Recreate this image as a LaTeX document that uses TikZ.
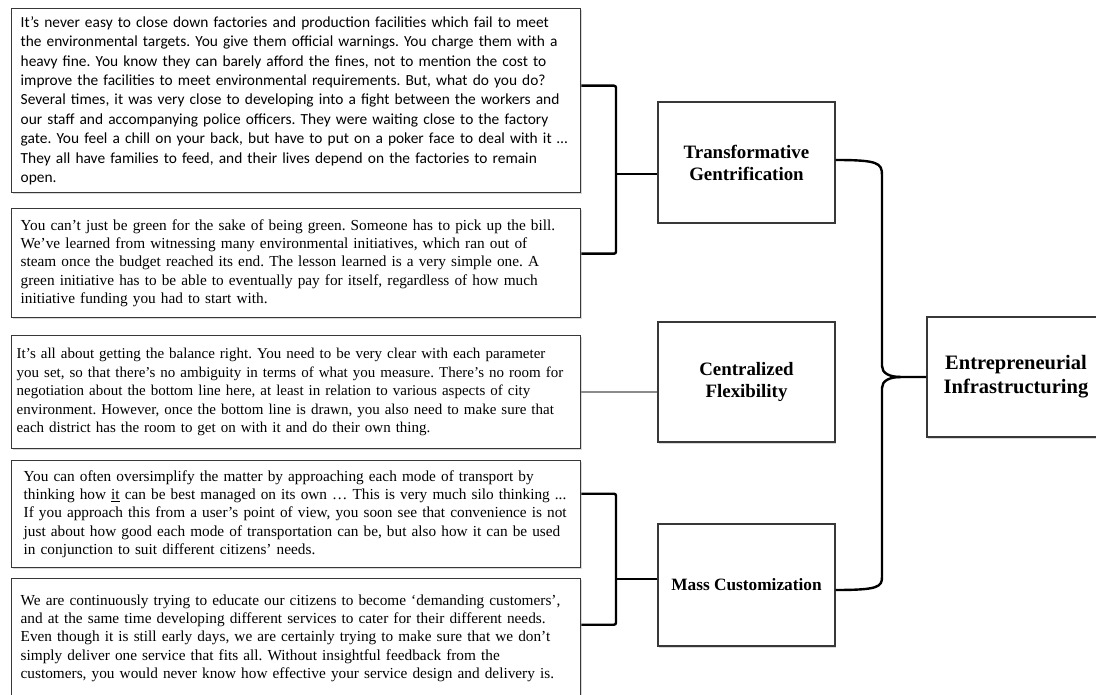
\documentclass[tikz,border=0pt]{standalone}
\usepackage{fontspec}
\setmainfont{Liberation Serif}
\newfontfamily\calibri{Carlito}
\usetikzlibrary{shadows}
\frenchspacing

\begin{document}
\begin{tikzpicture}[x=1pt, y=-1pt,
    quote/.style={draw=black!78, line width=1.4pt, fill=white, anchor=north west,
        align=left, inner xsep=9pt, text width=551pt, minimum width=569pt,
        font=\fontsize{15.3}{18.4}\selectfont,
        drop shadow={shadow xshift=1pt, shadow yshift=-1.5pt, opacity=0.3}},
    topic/.style={draw=black!78, line width=1.4pt, fill=white, align=center,
        minimum width=177pt, font=\bfseries\fontsize{18.9}{22}\selectfont,
        drop shadow={shadow xshift=1pt, shadow yshift=-1.5pt, opacity=0.3}},
    link/.style={line width=2.4pt, black, rounded corners=2pt},
    ]

    % Page size
    \useasboundingbox (0,0) rectangle (1096,695);

    %%%% Quotes
    \node[quote, minimum height=184pt, font=\calibri\fontsize{15.4}{19.4}\selectfont] (q1) at (11,8) {%
        It’s never easy to close down factories and production facilities which fail to meet\\
        the environmental targets. You give them official warnings. You charge them with a\\
        heavy fine. You know they can barely afford the fines, not to mention the cost to\\
        improve the facilities to meet environmental requirements. But, what do you do?\\
        Several times, it was very close to developing into a fight between the workers and\\
        our staff and accompanying police officers. They were waiting close to the factory\\
        gate. You feel a chill on your back, but have to put on a poker face to deal with it …\\
        They all have families to feed, and their lives depend on the factories to remain\\
        open.};

    \node[quote, minimum height=109pt] (q2) at (11,208) {%
        You can’t just be green for the sake of being green. Someone has to pick up the bill.\\
        We’ve learned from witnessing many environmental initiatives, which ran out of\\
        steam once the budget reached its end. The lesson learned is a very simple one. A\\
        green initiative has to be able to eventually pay for itself, regardless of how much\\
        initiative funding you had to start with.};

    \node[quote, minimum height=113pt, inner xsep=5pt, text width=559pt, font=\fontsize{15}{18.4}\selectfont] (q3) at (11,335) {%
        It’s all about getting the balance right. You need to be very clear with each parameter\\
        you set, so that there’s no ambiguity in terms of what you measure. There’s no room for\\
        negotiation about the bottom line here, at least in relation to various aspects of city\\
        environment. However, once the bottom line is drawn, you also need to make sure that\\
        each district has the room to get on with it and do their own thing.};

    \node[quote, minimum height=107pt, inner xsep=12pt, text width=545pt] (q4) at (11,460) {%
        You can often oversimplify the matter by approaching each mode of transport by\\
        thinking how \underline{it} can be best managed on its own … This is very much silo thinking ...\\
        If you approach this from a user’s point of view, you soon see that convenience is not\\
        just about how good each mode of transportation can be, but also how it can be used\\
        in conjunction to suit different citizens’ needs.};

    \node[quote, minimum height=119pt] (q5) at (11,578) {%
        We are continuously trying to educate our citizens to become ‘demanding customers’,\\
        and at the same time developing different services to cater for their different needs.\\
        Even though it is still early days, we are certainly trying to make sure that we don’t\\
        simply deliver one service that fits all. Without insightful feedback from the\\
        customers, you would never know how effective your service design and delivery is.};

    %%%% Themes
    \node[topic, minimum height=121pt] (tg) at (746.5,162.5) {Transformative\\Gentrification};
    \node[topic, minimum height=120pt] (cf) at (746.5,382) {Centralized\\Flexibility};
    \node[topic, minimum height=122pt, font=\bfseries\fontsize{17.3}{21}\selectfont] (mc) at (746.5,585) {Mass Customization};
    \node[topic, minimum height=120pt, minimum width=178pt, font=\bfseries\fontsize{20.5}{24}\selectfont] (ei) at (1016,377) {Entrepreneurial\\Infrastructuring};

    % Joints
    \coordinate (tgjoin) at (616,174);
    \coordinate (mcjoin) at (616,579);
    \coordinate (tip) at (901,377);

    %%%% Brackets
    \draw[link] ([yshift=15pt]q1.east) -| (tgjoin) |- ([yshift=9.5pt]q2.east);
    \draw[link] (tgjoin) -- (tgjoin -| tg.west);

    \draw[line width=2pt, black!45] (q3.east) -- (q3.east -| cf.west);

    \draw[link] ([yshift=20.5pt]q4.east) -| (mcjoin) |- ([yshift=13.5pt]q5.east);
    \draw[link] (mcjoin) -- (mcjoin -| mc.west);

    % Brace to the core
    \draw[link, rounded corners=0pt] ([yshift=2.5pt]tg.east) .. controls (878,160) and (882,163) .. (882,175)
        -- (882,366) .. controls (882,373) and (889,377) .. (tip) -- (ei.west);
    \draw[link, rounded corners=0pt] (tip) .. controls (889,377) and (882,381) .. (882,388)
        -- (882,577) .. controls (882,587) and (878,590) .. ([yshift=-5pt]mc.east);

\end{tikzpicture}
\end{document}
